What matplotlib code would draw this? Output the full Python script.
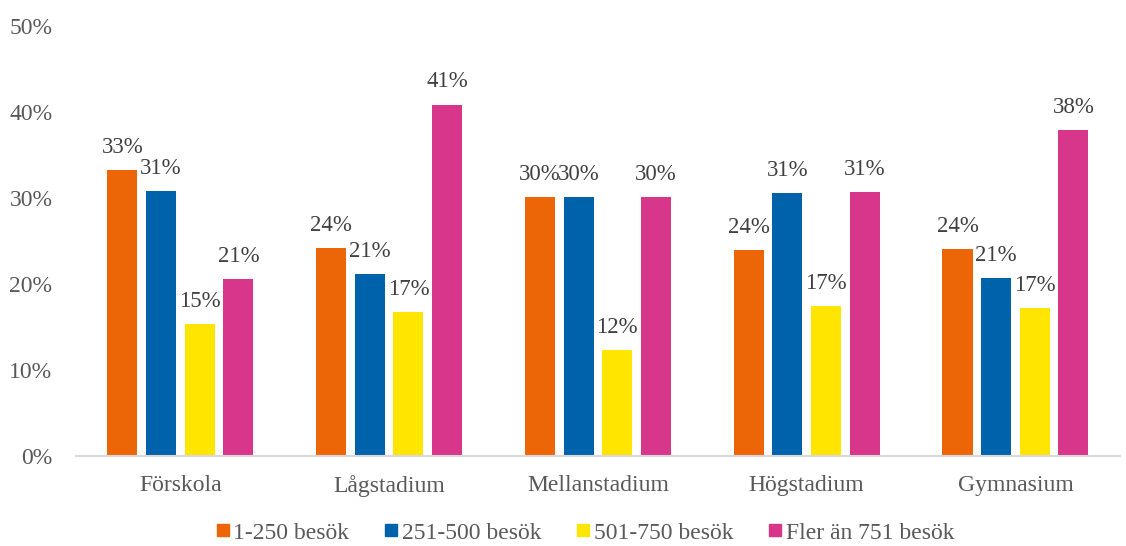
import matplotlib
matplotlib.use("Agg")
import matplotlib.pyplot as plt
import numpy as np
from matplotlib.ticker import FuncFormatter
from matplotlib.lines import Line2D

categories = ["Förskola", "Lågstadium", "Mellanstadium", "Högstadium", "Gymnasium"]
series_names = ["1-250 besök", "251-500 besök", "501-750 besök", "Fler än 751 besök"]
v1 = [33.3, 24.2, 30.1, 24.0, 24.1]
v2 = [30.8, 21.2, 30.1, 30.6, 20.7]
v3 = [15.4, 16.7, 12.3, 17.4, 17.2]
v4 = [20.6, 40.9, 30.1, 30.7, 37.9]
values = [v1, v2, v3, v4]
colors = ["#EC6608", "#0062AB", "#FFE500", "#D8368A"]

plt.rcParams['font.family'] = ['Liberation Serif', 'DejaVu Serif']
fig = plt.figure(figsize=(11.26, 5.46), dpi=100)
ax = fig.add_axes([0.0675, 0.1648, 0.927, 0.787])

x = np.arange(len(categories))
bw = 0.144
step = 0.185
offsets = [-1.5 * step, -0.5 * step, 0.5 * step, 1.5 * step]
for vals, off, c, name in zip(values, offsets, colors, series_names):
    bars = ax.bar(x + off, vals, width=bw, color=c, label=name, zorder=2)
    for b, v in zip(bars, vals):
        ax.text(b.get_x() + b.get_width() / 2, v + 1.4, f"{v:.0f}%",
                ha="center", va="bottom", fontsize=16.5, color="#404040")

ax.set_xlim(-0.5, len(categories) - 0.5)
ax.set_ylim(0, 50)
ax.set_yticks(np.arange(0, 51, 10))
ax.yaxis.set_major_formatter(FuncFormatter(lambda v, p: f"{v:.0f}%"))
ax.set_xticks(x)
ax.set_xticklabels(categories)
ax.tick_params(axis="both", length=0, labelsize=17, colors="#595959")
ax.tick_params(axis="y", pad=17)
ax.tick_params(axis="x", pad=14)
for s in ["top", "right", "left"]:
    ax.spines[s].set_visible(False)
ax.spines["bottom"].set_color("#D9D9D9")
ax.spines["bottom"].set_linewidth(1.5)

handles = [Line2D([0], [0], marker="s", linestyle="none", markersize=8.6,
                  markerfacecolor=c, markeredgecolor=c) for c in colors]
leg = fig.legend(handles, series_names, loc="center", ncol=4,
                 bbox_to_anchor=(0.519, 0.024), frameon=False, fontsize=17,
                 handletextpad=0.1, columnspacing=1.42, handlelength=0.7,
                 borderpad=0.0)
for t in leg.get_texts():
    t.set_color("#595959")

fig.savefig("out.png", dpi=100)
